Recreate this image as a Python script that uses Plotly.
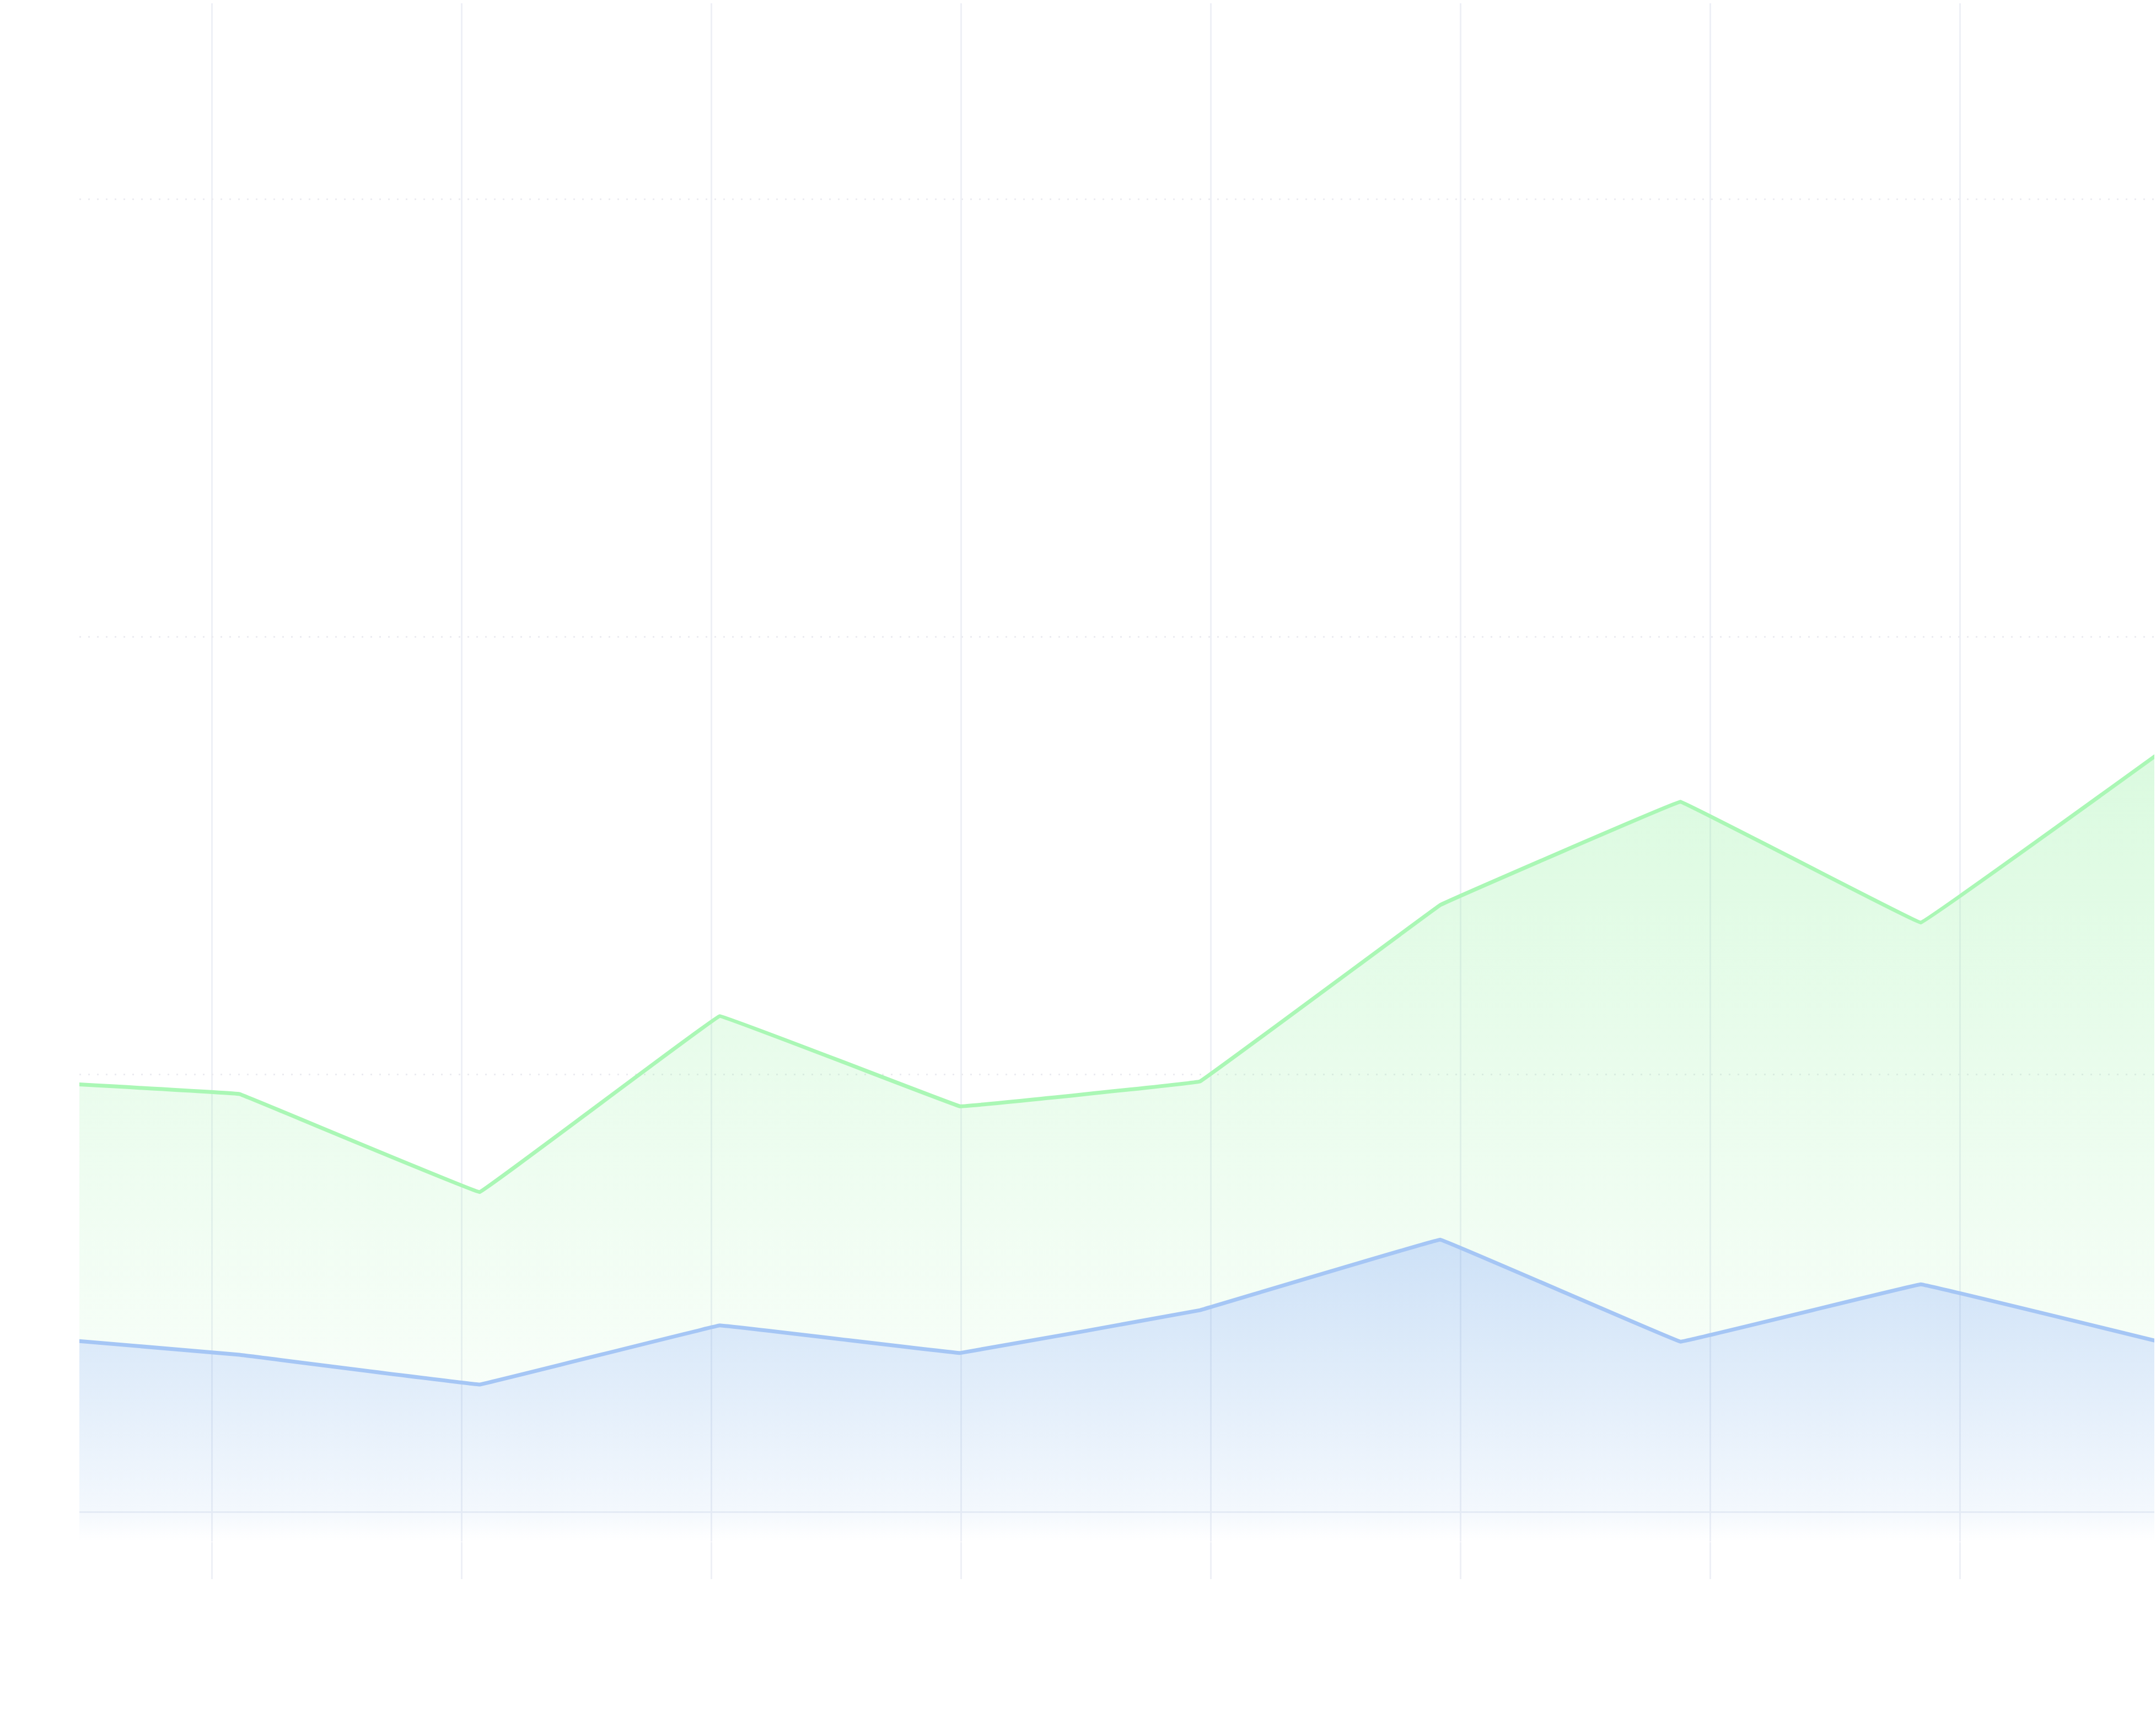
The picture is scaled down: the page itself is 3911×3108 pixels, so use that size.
import plotly.graph_objects as go

# ---------------------------- Data ---------------------------- #

POINTS = list(range(10))
GREEN_SERIES = [98.7, 95.5, 73.1, 113.3, 92.7, 98.4, 138.7, 162.3, 134.7, 173.7]
BLUE_SERIES = [40.6, 35.9, 29.1, 42.6, 36.3, 46.1, 62.2, 38.9, 52.0, 38.8]

# ---------------------------- Style ---------------------------- #

X_RANGE = [0.334, 8.973]   # both ends of the lines are clipped by the plot area
Y_RANGE = [-6.8, 344.8]

GREEN_LINE = "#aaf7b5"
BLUE_LINE = "#a5c6f5"
GRID_COLOR = "#eef0f6"
DOT_COLOR = "#ececf1"
LINE_WIDTH = 7
SMOOTHING = 0.06


def make_figure():
    """Two stacked gradient areas on a light grid, no labels."""
    fig = go.Figure()

    # Invisible floor so the blue area runs down to the bottom of the plot
    fig.add_trace(go.Scatter(
        x=POINTS,
        y=[Y_RANGE[0]] * len(POINTS),
        mode="lines",
        line=dict(width=0),
        hoverinfo="skip",
        showlegend=False
    ))

    # Blue series (lower area)
    fig.add_trace(go.Scatter(
        x=POINTS,
        y=BLUE_SERIES,
        mode="lines",
        line=dict(color=BLUE_LINE, width=LINE_WIDTH, shape="spline", smoothing=SMOOTHING),
        fill="tonexty",
        fillgradient=dict(
            type="vertical",
            start=Y_RANGE[0],
            stop=max(BLUE_SERIES),
            colorscale=[
                [0.0, "rgba(88,155,228,0.0)"],
                [0.1, "rgba(88,155,228,0.07)"],
                [1.0, "rgba(88,155,228,0.30)"],
            ],
        ),
        showlegend=False
    ))

    # Green series (upper area, filled down to the blue line)
    fig.add_trace(go.Scatter(
        x=POINTS,
        y=GREEN_SERIES,
        mode="lines",
        line=dict(color=GREEN_LINE, width=LINE_WIDTH, shape="spline", smoothing=SMOOTHING),
        fill="tonexty",
        fillgradient=dict(
            type="vertical",
            start=Y_RANGE[0],
            stop=max(GREEN_SERIES),
            colorscale=[
                [0.0, "rgba(134,239,150,0.0)"],
                [1.0, "rgba(134,239,150,0.30)"],
            ],
        ),
        showlegend=False
    ))

    fig.update_layout(
        width=3911,
        height=3108,
        margin=dict(l=144, r=3, t=6, b=311, pad=0),
        paper_bgcolor="white",
        plot_bgcolor="white",
        showlegend=False,
        xaxis=dict(
            range=X_RANGE,
            tickmode="linear",
            tick0=0.885,
            dtick=1.04,
            showgrid=True,
            gridcolor=GRID_COLOR,
            gridwidth=3,
            ticks="outside",
            ticklen=67,
            tickwidth=3,
            tickcolor=GRID_COLOR,
            showticklabels=False,
            zeroline=False,
            showline=False,
            fixedrange=True
        ),
        yaxis=dict(
            range=Y_RANGE,
            tickmode="linear",
            tick0=0,
            dtick=100,
            showgrid=True,
            gridcolor=DOT_COLOR,
            gridwidth=3,
            griddash="3px,13px",
            zeroline=True,
            zerolinecolor=GRID_COLOR,
            zerolinewidth=3,
            showticklabels=False,
            ticks="",
            showline=False,
            fixedrange=True
        )
    )
    return fig


if __name__ == "__main__":
    fig = make_figure()
    fig.write_html(
        "out.html",
        config={"displayModeBar": False},
        post_script="document.body.style.margin = '0';"
    )
